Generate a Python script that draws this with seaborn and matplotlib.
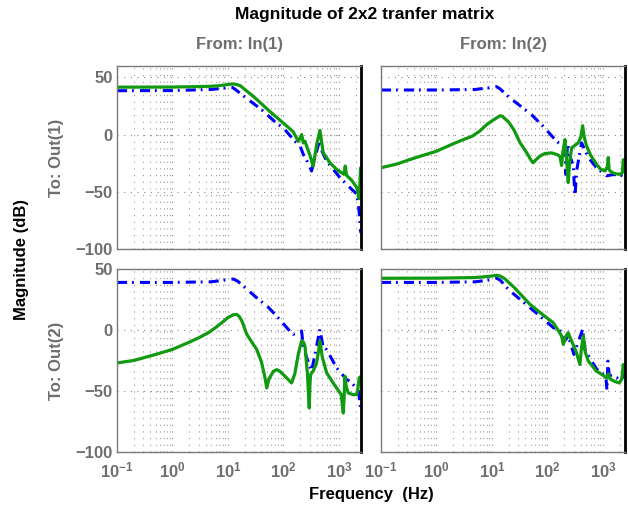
import matplotlib
matplotlib.use("Agg")
import matplotlib.pyplot as plt
import seaborn as sns
import pandas as pd
from matplotlib.ticker import FixedLocator, LogLocator, NullFormatter, NullLocator

# ---------------- texts ----------------
title = "Magnitude of 2x2 tranfer matrix"
col_titles = ["From: In(1)", "From: In(2)"]
row_titles = ["To: Out(1)", "To: Out(2)"]
y_label = "Magnitude (dB)"
x_label = "Frequency  (Hz)"
x_ticks = [0.1, 1, 10, 100, 1000]
x_ticklabels = [r"$10^{-1}$", r"$10^{0}$", r"$10^{1}$", r"$10^{2}$", r"$10^{3}$"]
y_ticks = [-100, -50, 0, 50]
y_ticklabels = ["\u2212100", "\u221250", "0", "50"]

# ---------------- data (Hz, dB) ----------------
# Out(1) <- In(1)
f_model_11 = [0.1, 1, 5, 8, 11, 12, 14, 20, 40, 75, 100, 161, 200, 228, 260, 321, 350, 420, 455, 500, 600, 1043, 1690, 2100, 2322, 2450, 2500]
db_model_11 = [38.4, 38.5, 39.5, 40.5, 41.5, 41.3, 39, 33, 22, 10, 5.8, -5.8, -10, -17.3, -22, -31.8, -25, -10, -5, -15, -23, -37.6, -47.7, -52, -68, -84, -86]
f_meas_11 = [0.1, 1, 3, 5, 7, 9, 11, 12.5, 14, 15.5, 17, 20, 30, 57, 100, 150, 185, 200, 213, 228, 244, 300, 344, 400, 455, 521, 700, 908, 1230, 1300, 1374, 1700, 2080, 2250, 2322, 2455, 2500]
db_meas_11 = [41.5, 41.6, 42, 42.3, 42.8, 43.5, 44.1, 44.3, 44, 43.3, 42.5, 39.6, 32.6, 20.2, 10, 2.5, -5.8, -3, 0, -7.2, -5.8, -18, -27.5, -8, 3.7, -15.9, -25, -30.4, -34.7, -27.5, -35.6, -40, -46, -52, -56, -29, -29]

# Out(1) <- In(2)
f_model_12 = [0.1, 1, 5, 9, 12, 14, 20, 52, 84, 146, 200, 207, 215, 230, 260, 292, 313, 340, 413, 545, 769, 1164, 1500, 2023, 2500]
db_model_12 = [39, 39, 39.5, 41, 42, 40, 33, 17.3, 7.2, -5.8, -11, -13, -34.7, -8, -20, -27.5, -53.5, -30, -7.2, -20, -29, -36, -35, -35, -37]
f_meas_12 = [0.1, 0.2, 0.3, 0.5, 1, 2, 3, 4.4, 6, 8, 10, 12, 14, 15.5, 17, 20, 25, 32, 40, 45, 50, 55, 62, 73, 90, 119, 150, 168, 180, 190, 207, 220, 237, 250, 273, 320, 360, 400, 431, 460, 508, 600, 769, 900, 1086, 1200, 1248, 1290, 1337, 1600, 2023, 2250, 2322, 2500]
db_meas_12 = [-29, -25.5, -22.5, -19, -14.5, -8, -4.5, -1.4, 3, 8.7, 12, 14.5, 16.5, 16, 14, 11, 4, -7, -14, -18, -22, -24.6, -22, -18.8, -16.5, -16, -17.5, -19, -27, -15, -4.3, -20, -41.9, -25, -11.6, -9, -7.2, -2, 7.8, -2, -10, -18, -26, -30, -31.8, -28, -20, -30, -31.8, -34, -34.7, -33, -22, -22]

# Out(2) <- In(1)
f_model_21 = [0.1, 1, 5, 9, 12.5, 15, 20, 38, 50, 75, 131, 150, 212, 228, 260, 321, 370, 455, 521, 600, 908, 1374, 1578, 2228, 2322, 2450, 2500]
db_model_21 = [39, 39, 39.5, 41, 41.8, 40, 35, 24, 20, 11.5, -1, -3.5, -0.8, -13, -22, -33.8, -20, 0.6, -14.5, -16, -31, -40.6, -42, -49, -55, -64, -64]
f_meas_21 = [0.1, 0.2, 0.3, 0.5, 1, 2, 3.1, 4.5, 6, 8, 10, 12.5, 14.3, 16, 18, 21.7, 27, 33, 40, 46, 50, 55, 66, 76, 86, 110, 140, 160, 185, 212, 230, 244, 270, 292, 300, 309, 350, 396, 430, 455, 500, 600, 750, 908, 1100, 1197, 1240, 1282, 1350, 1472, 1800, 2080, 2200, 2322, 2500]
db_meas_21 = [-27, -25, -22.8, -20, -15.9, -10, -6, -2, 2, 6.5, 10.2, 12.5, 12.8, 11, 7, -3.3, -10, -16, -26, -38, -47.5, -40, -33.8, -32.5, -33.8, -38.5, -43.4, -36, -20, -9, -10, -13, -35, -64, -45, -36.5, -33, -26.9, -17, -9, -22, -35, -42, -47.5, -53, -68, -55, -37.9, -46, -51.6, -53, -53, -48, -39.2, -38]

# Out(2) <- In(2)
f_model_22 = [0.1, 1, 5, 9, 12, 14, 20, 73, 127, 193, 205, 237, 300, 431, 474, 545, 769, 1130, 1180, 1230, 1300, 1762, 2023, 2322, 2500]
db_model_22 = [39, 39, 39.5, 41, 42.5, 41, 33, 11.5, 2, -2.2, -9, -5, -20, 0.6, -16, -21, -32, -38, -49, -25.5, -37, -39, -42, -38, -28]
f_meas_22 = [0.1, 1, 5, 9, 12, 14, 17, 25, 48, 80, 127, 160, 180, 193, 215, 237, 255, 273, 330, 385, 410, 443, 480, 545, 769, 1000, 1164, 1250, 1340, 1600, 1968, 2200, 2322, 2500]
db_meas_22 = [42.4, 42.5, 43, 44, 44.8, 44.3, 42, 35, 21.2, 13, 6, -1, -4.9, -11.8, -5, -2.2, -6, -9, -18, -28.3, -15, -4.9, -18, -25.5, -33.8, -37, -39.3, -36, -40, -42, -43.4, -40, -28.3, -30]

panels = [
    (f_model_11, db_model_11, f_meas_11, db_meas_11),
    (f_model_12, db_model_12, f_meas_12, db_meas_12),
    (f_model_21, db_model_21, f_meas_21, db_meas_21),
    (f_model_22, db_model_22, f_meas_22, db_meas_22),
]
row_ylims = [(-100, 60), (-100, 50)]

# ---------------- style ----------------
sns.set_theme(style="white")
plt.rcParams["font.family"] = ["Liberation Sans", "DejaVu Sans"]
plt.rcParams["font.weight"] = "bold"
plt.rcParams["mathtext.fontset"] = "custom"
plt.rcParams["mathtext.rm"] = "Liberation Sans:bold"
plt.rcParams["mathtext.it"] = "Liberation Sans:bold"
plt.rcParams["mathtext.bf"] = "Liberation Sans:bold"
plt.rcParams["axes.unicode_minus"] = True

GRAY_TXT = "#6e6e6e"
BLUE = "#0000ff"
GREEN = "#109a10"
W, H = 628, 508

fig = plt.figure(figsize=(W / 100, H / 100), dpi=100)
fig.patch.set_facecolor("white")


def rect(x0, y0, x1, y1):
    return [x0 / W, 1 - y1 / H, (x1 - x0) / W, (y1 - y0) / H]


boxes = [(117, 66, 361, 249), (381, 66, 625, 249),
         (117, 269, 361, 452), (381, 269, 625, 452)]

for i, (box, (fm, dm, fg, dg)) in enumerate(zip(boxes, panels)):
    r, c = divmod(i, 2)
    ax = fig.add_axes(rect(*box))
    ax.set_facecolor("white")
    dfm = pd.DataFrame({"f": fm, "db": dm})
    dfg = pd.DataFrame({"f": fg, "db": dg})
    sns.lineplot(data=dfm, x="f", y="db", ax=ax, color=BLUE, linewidth=2.2,
                 linestyle=(0, (3.3, 1.6, 0.6, 2.0)), sort=False, estimator=None)
    sns.lineplot(data=dfg, x="f", y="db", ax=ax, color=GREEN, linewidth=2.3,
                 sort=False, estimator=None, solid_joinstyle="round")
    ax.set_xscale("log")
    ax.set_xlim(0.1, 2500)
    ax.set_ylim(*row_ylims[r])
    ax.xaxis.set_major_locator(FixedLocator(x_ticks))
    ax.xaxis.set_minor_locator(LogLocator(base=10, subs=[2, 3, 4, 5, 6, 7, 8, 9], numticks=20))
    ax.xaxis.set_minor_formatter(NullFormatter())
    ax.yaxis.set_major_locator(FixedLocator(y_ticks))
    ax.yaxis.set_minor_locator(NullLocator())
    if r == 1:
        ax.set_xticklabels(x_ticklabels)
    else:
        ax.set_xticklabels([])
    if c == 0:
        ax.set_yticklabels(y_ticklabels)
    else:
        ax.set_yticklabels([])
    ax.set_xlabel("")
    ax.set_ylabel("")
    ax.tick_params(which="both", length=0, labelsize=12, labelcolor=GRAY_TXT)
    ax.tick_params(axis="x", pad=6)
    ax.tick_params(axis="y", pad=3)
    ax.grid(which="major", axis="both", color="#8a8a8a", linestyle=(0, (1, 5)), linewidth=0.8)
    ax.grid(which="minor", axis="x", color="#9a9a9a", linestyle=(0, (1, 5)), linewidth=0.8)
    ax.set_axisbelow(True)
    for s in ["left", "top", "bottom"]:
        ax.spines[s].set_color("#7a7a7a")
        ax.spines[s].set_linewidth(1.0)
    ax.spines["right"].set_color("black")
    ax.spines["right"].set_linewidth(2.0)
    for lab in ax.get_xticklabels() + ax.get_yticklabels():
        lab.set_fontweight("bold")

fig.text(365 / W, 1 - 14 / H, title, ha="center", va="center", fontsize=12.5, fontweight="bold", color="black")
fig.text(239 / W, 1 - 45 / H, col_titles[0], ha="center", va="center", fontsize=12, fontweight="bold", color=GRAY_TXT)
fig.text(503 / W, 1 - 45 / H, col_titles[1], ha="center", va="center", fontsize=12, fontweight="bold", color=GRAY_TXT)
fig.text(57 / W, 1 - 157.5 / H, row_titles[0], ha="center", va="center", rotation=90, fontsize=12, fontweight="bold", color=GRAY_TXT)
fig.text(57 / W, 1 - 360.5 / H, row_titles[1], ha="center", va="center", rotation=90, fontsize=12, fontweight="bold", color=GRAY_TXT)
fig.text(22 / W, 1 - 259 / H, y_label, ha="center", va="center", rotation=90, fontsize=12, fontweight="bold", color="black")
fig.text(371 / W, 1 - 494 / H, x_label, ha="center", va="center", fontsize=12, fontweight="bold", color="black")

fig.savefig("out.png", dpi=100, facecolor="white")
